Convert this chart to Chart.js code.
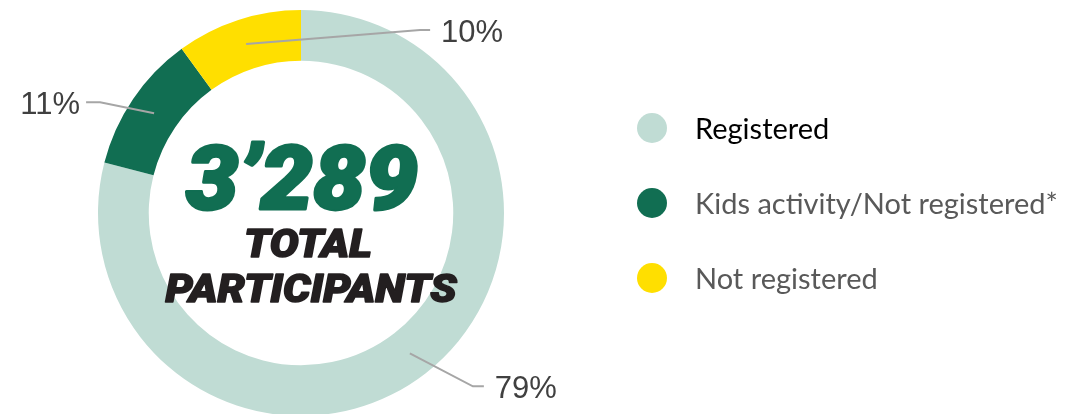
<!DOCTYPE html>
<html>
<head>
<meta charset="utf-8">
<script src="https://cdn.jsdelivr.net/npm/chart.js@4.4.1/dist/chart.umd.min.js"></script>
<style>
  html, body { margin: 0; padding: 0; background: #fff; overflow: hidden; }
  #wrap { width: 1089px; height: 414px; overflow: hidden; }
</style>
</head>
<body>
<div id="wrap"><canvas id="chart1" width="1089" height="430"></canvas></div>
<script>
// participants split (percent of total)
const categories = ['Registered', 'Kids activity/Not registered*', 'Not registered'];
const shares = [79, 11, 10];
const sliceColors = ['#c0dcd4', '#116e52', '#ffdf00'];
const legendTextColors = ['#000000', '#595959', '#595959'];
const totalParticipants = '3\u2019289';
const centerLines = ['TOTAL', 'PARTICIPANTS'];

// where each percent label sits, relative to the middle of its arc
const labelSpots = [
  { dx: 63, dy: 33, tail: 11, side: 'right' },
  { dx: -54, dy: -11, tail: -14, side: 'left' },
  { dx: 174, dy: -14, tail: 10, side: 'right' }
];

const pctLabels = {
  id: 'pctLabels',
  afterDatasetsDraw(chart) {
    const ctx = chart.ctx;
    const arcs = chart.getDatasetMeta(0).data;
    ctx.save();
    arcs.forEach((arc, i) => {
      const p = arc.getCenterPoint();
      const s = labelSpots[i];
      const ex = p.x + s.dx, ey = p.y + s.dy;
      const tx = ex + s.tail;
      ctx.strokeStyle = '#a6a6a6';
      ctx.lineWidth = 2;
      ctx.beginPath();
      ctx.moveTo(p.x, p.y);
      ctx.lineTo(ex, ey);
      ctx.lineTo(tx, ey);
      ctx.stroke();
      ctx.fillStyle = '#404040';
      ctx.font = '31px "Liberation Sans", Arial, sans-serif';
      ctx.textBaseline = 'middle';
      ctx.textAlign = s.side === 'right' ? 'left' : 'right';
      const gap = s.side === 'right' ? 11 : -6;
      ctx.fillText(shares[i] + '%', tx + gap, ey + 3);
    });
    ctx.restore();
  }
};

// big total in the hole of the ring
const centerText = {
  id: 'centerText',
  afterDraw(chart) {
    const ctx = chart.ctx;
    const arc = chart.getDatasetMeta(0).data[0];
    const cx = arc.x, cy = arc.y;
    const fit = (text, font, color, x, y, width, weight) => {
      ctx.font = font;
      const w = ctx.measureText(text).width;
      ctx.save();
      ctx.translate(x, y);
      ctx.scale(width / w, 1);
      ctx.fillStyle = color;
      ctx.strokeStyle = color;
      ctx.lineWidth = weight;
      ctx.lineJoin = 'round';
      ctx.textAlign = 'center';
      ctx.textBaseline = 'alphabetic';
      ctx.strokeText(text, 0, 0);
      ctx.fillText(text, 0, 0);
      ctx.restore();
    };
    fit(totalParticipants, 'italic 900 89px Roboto', '#116e52', cx + 1, cy - 4, 232, 3);
    fit(centerLines[0], 'italic 900 38px Roboto', '#231f20', cx + 7, cy + 44, 128, 1.5);
    fit(centerLines[1], 'italic 900 38px Roboto', '#231f20', cx + 10, cy + 89, 291, 1.5);
  }
};

const sideLegend = {
  id: 'sideLegend',
  afterDraw(chart) {
    const ctx = chart.ctx;
    const labels = chart.data.labels;
    const colors = chart.data.datasets[0].backgroundColor;
    ctx.save();
    labels.forEach((label, i) => {
      const y = 128 + i * 75;
      ctx.fillStyle = colors[i];
      ctx.beginPath();
      ctx.arc(652, y, 15, 0, Math.PI * 2);
      ctx.fill();
      ctx.fillStyle = legendTextColors[i];
      ctx.font = '29px Lato, "Open Sans", sans-serif';
      ctx.textAlign = 'left';
      ctx.textBaseline = 'middle';
      ctx.fillText(label, 695, y + 2);
    });
    ctx.restore();
  }
};

const chart1 = new Chart(document.getElementById('chart1'), {
  type: 'doughnut',
  data: {
    labels: categories,
    datasets: [{
      data: shares,
      backgroundColor: sliceColors,
      borderWidth: 0
    }]
  },
  options: {
    responsive: false,
    animation: false,
    devicePixelRatio: 1,
    cutout: '75%',
    layout: { padding: { left: 98, right: 585, top: 10, bottom: 14 } },
    plugins: {
      legend: { display: false },
      tooltip: { enabled: false }
    }
  },
  plugins: [pctLabels, centerText, sideLegend]
});
</script>
</body>
</html>
